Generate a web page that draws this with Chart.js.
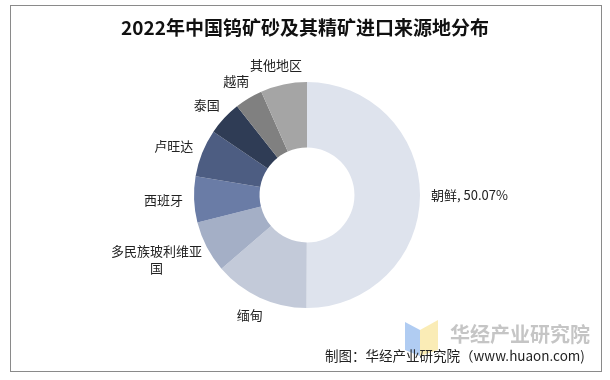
<!DOCTYPE html>
<html>
<head>
<meta charset="utf-8">
<script src="https://cdn.jsdelivr.net/npm/chart.js@4"></script>
<style>
html,body{margin:0;padding:0;background:#fff;}
canvas{display:block;}
</style>
</head>
<body>
<canvas id="chart" width="610" height="380"></canvas>
<script>

/* DATA */

const chartTitle = '2022年中国钨矿砂及其精矿进口来源地分布';

const regions = ['朝鲜','缅甸','多民族玻利维亚国','西班牙','卢旺达','泰国','越南','其他地区'];

const shares = [50.07,13.6,7.4,6.6,6.8,4.9,4.0,6.63];

const sliceColors = ['#dee3ed','#c3cad9','#a4afc6','#6a7ca6','#4d5d82','#2f3c55','#808080','#a5a5a5'];

const font = '"Noto Sans CJK SC", "Noto Sans", sans-serif';

/* FRAME, TITLE, WATERMARK */

const framePlugin = {
    id:'frame',
    beforeDraw(chart){
        const ctx = chart.ctx;
        ctx.save();
        ctx.fillStyle = '#fff';
        ctx.fillRect(0,0,chart.width,chart.height);
        ctx.strokeStyle = '#8a8a8a';
        ctx.lineWidth = 1;
        ctx.strokeRect(10.5,5.5,591,366);

        ctx.fillStyle = '#111';
        ctx.font = 'bold 19px ' + font;
        ctx.textAlign = 'center';
        ctx.textBaseline = 'middle';
        ctx.fillText(chartTitle,305,28);
        ctx.restore();
    },
    afterDraw(chart){
        const ctx = chart.ctx;
        ctx.save();

        // logo
        ctx.globalAlpha = 0.55;
        ctx.fillStyle = '#6fa3e8';
        ctx.beginPath();
        ctx.moveTo(405,322);
        ctx.lineTo(420,330);
        ctx.lineTo(420,356);
        ctx.lineTo(405,350);
        ctx.closePath();
        ctx.fill();
        ctx.fillStyle = '#f5dc7a';
        ctx.beginPath();
        ctx.moveTo(420,330);
        ctx.lineTo(438,320);
        ctx.lineTo(438,350);
        ctx.lineTo(420,356);
        ctx.closePath();
        ctx.fill();
        ctx.globalAlpha = 1;

        // watermark text
        ctx.fillStyle = 'rgba(150,150,150,0.55)';
        ctx.font = 'bold 20px ' + font;
        ctx.textAlign = 'left';
        ctx.textBaseline = 'middle';
        ctx.fillText('华经产业研究院',450,334);

        // source
        ctx.fillStyle = '#222';
        ctx.font = '13.5px ' + font;
        ctx.fillText('制图：华经产业研究院（www.huaon.com)',325,356);

        ctx.restore();
    }
};

/* OUTSIDE LABELS */

const labelPlugin = {
    id:'outLabels',
    afterDatasetsDraw(chart){
        const ctx = chart.ctx;
        const meta = chart.getDatasetMeta(0);
        ctx.save();
        ctx.font = '13px ' + font;
        ctx.fillStyle = '#222';
        ctx.textBaseline = 'middle';
        ctx.textAlign = 'center';

        meta.data.forEach((arc,i)=>{
            const p = arc.getProps(['x','y','startAngle','endAngle','outerRadius']);
            const mid = (p.startAngle + p.endAngle)/2;
            const cos = Math.cos(mid), sin = Math.sin(mid);
            const r = p.outerRadius + 11;
            const ax = p.x + cos*r, ay = p.y + sin*r;

            let text = regions[i];
            if(i === 0) text = regions[i] + ', ' + shares[i].toFixed(2) + '%';

            // wrap long labels
            let lines = [text];
            if(ctx.measureText(text).width > 100){
                lines = [];
                let cur = '';
                for(const ch of text){
                    if(ctx.measureText(cur + ch).width > 100){
                        lines.push(cur);
                        cur = ch;
                    } else {
                        cur += ch;
                    }
                }
                lines.push(cur);
            }

            const lh = 17;
            const w = Math.max(...lines.map(l=>ctx.measureText(l).width));
            const h = lines.length*lh;
            const cx = ax + cos*w/2;
            const cy = ay + sin*h/2;

            lines.forEach((l,k)=>{
                ctx.fillText(l,cx,cy - h/2 + lh/2 + k*lh);
            });
        });
        ctx.restore();
    }
};

/* CHART */

new Chart(document.getElementById('chart'),{
    type:'doughnut',
    data:{
        labels:regions,
        datasets:[{
            data:shares,
            backgroundColor:sliceColors,
            borderWidth:0,
            hoverOffset:0
        }]
    },
    options:{
        responsive:false,
        animation:false,
        cutout:'42%',
        layout:{
            padding:{top:82,bottom:72,left:194,right:190}
        },
        plugins:{
            legend:{display:false},
            tooltip:{enabled:false},
            title:{display:false}
        }
    },
    plugins:[framePlugin,labelPlugin]
});

</script>
</body>
</html>
